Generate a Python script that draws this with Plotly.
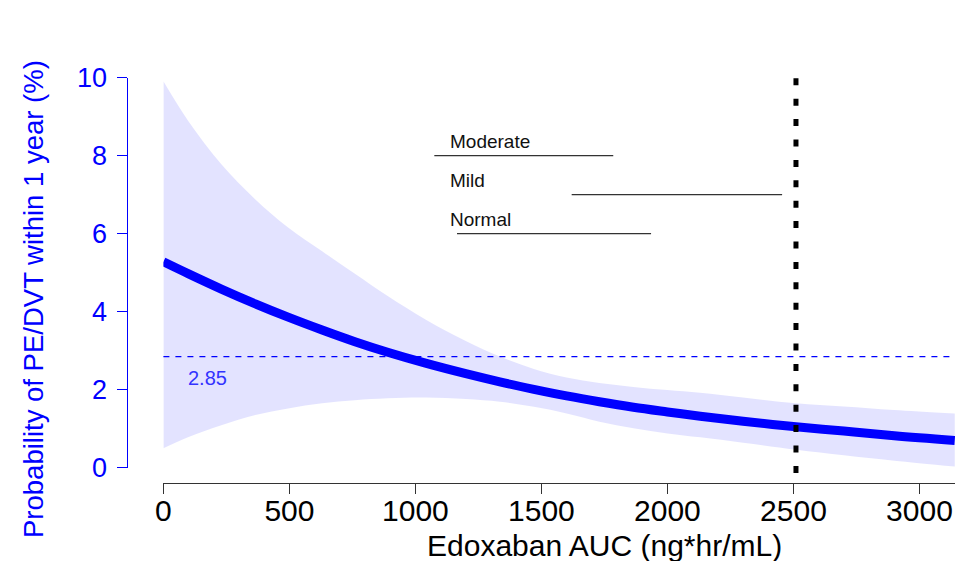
import plotly.graph_objects as go

# Edoxaban exposure (AUC, ng*hr/mL) and modelled 1-year PE/DVT probability (%)
auc = [0, 100, 230, 365, 495, 630, 760, 890, 1040, 1200, 1335, 1470,
       1600, 1730, 1865, 2000, 2130, 2300, 2510, 2700, 2900, 3140]
prob = [5.28, 4.97, 4.58, 4.20, 3.86, 3.53, 3.23, 2.96, 2.68, 2.41, 2.20, 2.01,
        1.84, 1.69, 1.55, 1.43, 1.32, 1.19, 1.05, 0.94, 0.82, 0.70]
upper = [9.91, 8.88, 7.78, 6.88, 6.16, 5.55, 4.97, 4.40, 3.80, 3.25, 2.85, 2.53,
         2.31, 2.17, 2.07, 1.99, 1.92, 1.80, 1.65, 1.57, 1.48, 1.39]
lower = [0.50, 0.79, 1.09, 1.35, 1.52, 1.65, 1.73, 1.78, 1.80, 1.76, 1.69, 1.56,
         1.39, 1.18, 1.01, 0.88, 0.78, 0.64, 0.46, 0.32, 0.18, 0.03]

# Reference event rate and AUC cut-off
ref_rate = 2.85
auc_cutoff = 2510

# AUC ranges by renal function group
groups = ["Moderate", "Mild", "Normal"]
group_lo = [1075, 1620, 1165]
group_hi = [1785, 2455, 1935]
group_level = [8, 7, 6]

x_ticks = [0, 500, 1000, 1500, 2000, 2500, 3000]
y_ticks = [0, 2, 4, 6, 8, 10]

FONT = "Liberation Sans, Arial, sans-serif"
BLUE = "#0000FF"

fig = go.Figure()

# confidence band
fig.add_trace(go.Scatter(x=auc, y=lower, mode="lines", line=dict(width=0, shape="spline"),
                         hoverinfo="skip", showlegend=False))
fig.add_trace(go.Scatter(x=auc, y=upper, mode="lines", line=dict(width=0, shape="spline"),
                         fill="tonexty", fillcolor="rgba(0,0,255,0.11)",
                         hoverinfo="skip", showlegend=False))
# model curve
fig.add_trace(go.Scatter(x=auc, y=prob, mode="lines",
                         line=dict(color=BLUE, width=9, shape="spline"),
                         showlegend=False))

# group AUC ranges with labels
for name, lo, hi, lev in zip(groups, group_lo, group_hi, group_level):
    fig.add_trace(go.Scatter(x=[lo, hi], y=[lev, lev], mode="lines",
                             line=dict(color="#333333", width=1.3), showlegend=False))
    fig.add_annotation(x=1128, y=lev + 0.37, text=name, showarrow=False,
                       xanchor="left", yanchor="middle",
                       font=dict(family=FONT, size=19, color="#111111"))

# reference rate line and its label
fig.add_shape(type="line", xref="x domain", yref="y", x0=0, x1=1,
              y0=ref_rate, y1=ref_rate, line=dict(color=BLUE, width=1.2, dash="6px,6px"))
fig.add_annotation(x=175, y=ref_rate - 0.55, text=f"{ref_rate}", showarrow=False,
                   xanchor="center", yanchor="middle",
                   font=dict(family=FONT, size=20, color="#3333FF"))

# AUC cut-off line
fig.add_shape(type="line", xref="x", yref="paper", x0=auc_cutoff, x1=auc_cutoff,
              y0=0.157, y1=0.861, line=dict(color="black", width=5, dash="7px,13.4px"))

fig.update_layout(
    width=955, height=561,
    margin=dict(l=0, r=0, t=0, b=0, autoexpand=False),
    paper_bgcolor="white", plot_bgcolor="white",
    font=dict(family=FONT),
    showlegend=False,
    xaxis=dict(domain=[0.1711, 1.0], range=[0, 3141], anchor="free", position=0.1385,
               automargin=False,
               showline=True, linecolor="#333333", linewidth=1,
               ticks="outside", ticklen=10, tickcolor="#333333", tickwidth=1,
               ticklabelstandoff=-9,
               tickvals=x_ticks, ticktext=[str(v) for v in x_ticks],
               tickfont=dict(family=FONT, size=30, color="black"),
               showgrid=False, zeroline=False),
    yaxis=dict(domain=[0.1663, 0.8615], range=[0, 10], anchor="free", position=0.1335,
               automargin=False,
               showline=True, linecolor=BLUE, linewidth=1,
               ticks="outside", ticklen=10, tickcolor=BLUE, tickwidth=1,
               ticklabelstandoff=5,
               tickvals=y_ticks, ticktext=[str(v) for v in y_ticks],
               tickfont=dict(family=FONT, size=27, color=BLUE),
               showgrid=False, zeroline=False),
)

# axis titles
fig.add_annotation(xref="paper", yref="paper", x=604 / 955, y=(561 - 545) / 561,
                   text="Edoxaban AUC (ng*hr/mL)", showarrow=False,
                   xanchor="center", yanchor="middle",
                   font=dict(family=FONT, size=30, color="black"))
fig.add_annotation(xref="paper", yref="paper", x=33 / 955, y=(561 - 299) / 561,
                   text="Probability of PE/DVT within 1 year (%)", showarrow=False,
                   textangle=-90, xanchor="center", yanchor="middle",
                   font=dict(family=FONT, size=27.5, color=BLUE))

fig.write_html("out.html")
